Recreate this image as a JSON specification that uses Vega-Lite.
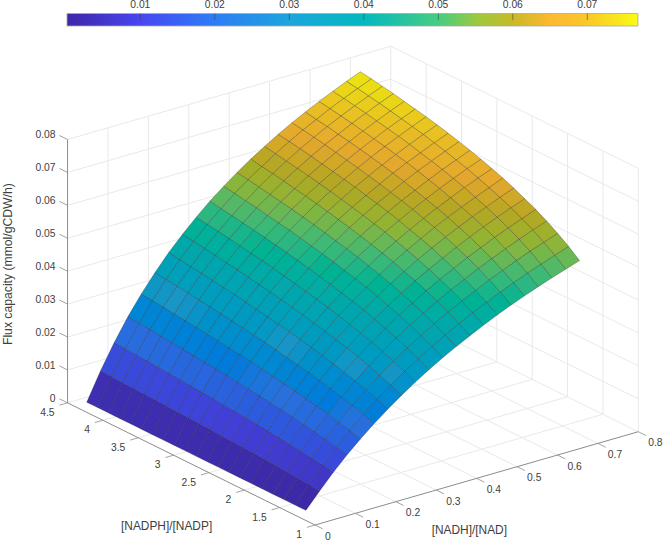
{"$schema":"https://vega.github.io/schema/vega-lite/v6.json","width":666,"height":543,"autosize":{"type":"none"},"padding":0,"background":"white","config":{"view":{"stroke":null}},"projection":{"type":"identity","scale":1,"translate":[0,0]},
"datasets":{
"surface":[
{"x":0.03,"y":1.3,"z":0.0002},{"x":0.064,"y":1.3,"z":0.0049},{"x":0.098,"y":1.3,"z":0.0094},{"x":0.132,"y":1.3,"z":0.0135},{"x":0.165,"y":1.3,"z":0.0171},{"x":0.199,"y":1.3,"z":0.0206},{"x":0.233,"y":1.3,"z":0.0238},{"x":0.267,"y":1.3,"z":0.0268},{"x":0.301,"y":1.3,"z":0.0296},{"x":0.335,"y":1.3,"z":0.0322},{"x":0.369,"y":1.3,"z":0.0346},{"x":0.402,"y":1.3,"z":0.0368},{"x":0.436,"y":1.3,"z":0.0389},{"x":0.47,"y":1.3,"z":0.0409},{"x":0.504,"y":1.3,"z":0.0428},{"x":0.538,"y":1.3,"z":0.0446},{"x":0.571,"y":1.3,"z":0.0462},{"x":0.605,"y":1.3,"z":0.0478},{"x":0.639,"y":1.3,"z":0.0493},{"x":0.673,"y":1.3,"z":0.0507},{"x":0.707,"y":1.3,"z":0.0521},
{"x":0.03,"y":1.455,"z":0.0002},{"x":0.064,"y":1.455,"z":0.0052},{"x":0.098,"y":1.455,"z":0.0099},{"x":0.132,"y":1.455,"z":0.0143},{"x":0.165,"y":1.455,"z":0.0181},{"x":0.199,"y":1.455,"z":0.0218},{"x":0.233,"y":1.455,"z":0.0252},{"x":0.267,"y":1.455,"z":0.0283},{"x":0.301,"y":1.455,"z":0.0312},{"x":0.335,"y":1.455,"z":0.0339},{"x":0.369,"y":1.455,"z":0.0364},{"x":0.402,"y":1.455,"z":0.0387},{"x":0.436,"y":1.455,"z":0.041},{"x":0.47,"y":1.455,"z":0.0431},{"x":0.504,"y":1.455,"z":0.045},{"x":0.538,"y":1.455,"z":0.0469},{"x":0.571,"y":1.455,"z":0.0486},{"x":0.605,"y":1.455,"z":0.0503},{"x":0.639,"y":1.455,"z":0.0518},{"x":0.673,"y":1.455,"z":0.0533},{"x":0.707,"y":1.455,"z":0.0548},
{"x":0.03,"y":1.61,"z":0.0002},{"x":0.064,"y":1.61,"z":0.0055},{"x":0.098,"y":1.61,"z":0.0104},{"x":0.132,"y":1.61,"z":0.015},{"x":0.165,"y":1.61,"z":0.019},{"x":0.199,"y":1.61,"z":0.0228},{"x":0.233,"y":1.61,"z":0.0264},{"x":0.267,"y":1.61,"z":0.0296},{"x":0.301,"y":1.61,"z":0.0327},{"x":0.335,"y":1.61,"z":0.0355},{"x":0.369,"y":1.61,"z":0.0381},{"x":0.402,"y":1.61,"z":0.0405},{"x":0.436,"y":1.61,"z":0.0428},{"x":0.47,"y":1.61,"z":0.045},{"x":0.504,"y":1.61,"z":0.047},{"x":0.538,"y":1.61,"z":0.049},{"x":0.571,"y":1.61,"z":0.0507},{"x":0.605,"y":1.61,"z":0.0525},{"x":0.639,"y":1.61,"z":0.0541},{"x":0.673,"y":1.61,"z":0.0556},{"x":0.707,"y":1.61,"z":0.0571},
{"x":0.03,"y":1.765,"z":0.0002},{"x":0.064,"y":1.765,"z":0.0057},{"x":0.098,"y":1.765,"z":0.0109},{"x":0.132,"y":1.765,"z":0.0156},{"x":0.165,"y":1.765,"z":0.0198},{"x":0.199,"y":1.765,"z":0.0238},{"x":0.233,"y":1.765,"z":0.0275},{"x":0.267,"y":1.765,"z":0.0308},{"x":0.301,"y":1.765,"z":0.034},{"x":0.335,"y":1.765,"z":0.0369},{"x":0.369,"y":1.765,"z":0.0396},{"x":0.402,"y":1.765,"z":0.0421},{"x":0.436,"y":1.765,"z":0.0445},{"x":0.47,"y":1.765,"z":0.0467},{"x":0.504,"y":1.765,"z":0.0488},{"x":0.538,"y":1.765,"z":0.0508},{"x":0.571,"y":1.765,"z":0.0526},{"x":0.605,"y":1.765,"z":0.0544},{"x":0.639,"y":1.765,"z":0.0561},{"x":0.673,"y":1.765,"z":0.0577},{"x":0.707,"y":1.765,"z":0.0592},
{"x":0.03,"y":1.92,"z":0.0002},{"x":0.064,"y":1.92,"z":0.006},{"x":0.098,"y":1.92,"z":0.0113},{"x":0.132,"y":1.92,"z":0.0162},{"x":0.165,"y":1.92,"z":0.0206},{"x":0.199,"y":1.92,"z":0.0247},{"x":0.233,"y":1.92,"z":0.0285},{"x":0.267,"y":1.92,"z":0.032},{"x":0.301,"y":1.92,"z":0.0352},{"x":0.335,"y":1.92,"z":0.0382},{"x":0.369,"y":1.92,"z":0.041},{"x":0.402,"y":1.92,"z":0.0435},{"x":0.436,"y":1.92,"z":0.046},{"x":0.47,"y":1.92,"z":0.0483},{"x":0.504,"y":1.92,"z":0.0504},{"x":0.538,"y":1.92,"z":0.0525},{"x":0.571,"y":1.92,"z":0.0543},{"x":0.605,"y":1.92,"z":0.0562},{"x":0.639,"y":1.92,"z":0.0579},{"x":0.673,"y":1.92,"z":0.0595},{"x":0.707,"y":1.92,"z":0.0611},
{"x":0.03,"y":2.075,"z":0.0002},{"x":0.064,"y":2.075,"z":0.0062},{"x":0.098,"y":2.075,"z":0.0117},{"x":0.132,"y":2.075,"z":0.0168},{"x":0.165,"y":2.075,"z":0.0213},{"x":0.199,"y":2.075,"z":0.0255},{"x":0.233,"y":2.075,"z":0.0294},{"x":0.267,"y":2.075,"z":0.033},{"x":0.301,"y":2.075,"z":0.0363},{"x":0.335,"y":2.075,"z":0.0394},{"x":0.369,"y":2.075,"z":0.0422},{"x":0.402,"y":2.075,"z":0.0448},{"x":0.436,"y":2.075,"z":0.0474},{"x":0.47,"y":2.075,"z":0.0497},{"x":0.504,"y":2.075,"z":0.0519},{"x":0.538,"y":2.075,"z":0.054},{"x":0.571,"y":2.075,"z":0.0559},{"x":0.605,"y":2.075,"z":0.0578},{"x":0.639,"y":2.075,"z":0.0595},{"x":0.673,"y":2.075,"z":0.0612},{"x":0.707,"y":2.075,"z":0.0627},
{"x":0.03,"y":2.23,"z":0.0002},{"x":0.064,"y":2.23,"z":0.0064},{"x":0.098,"y":2.23,"z":0.0121},{"x":0.132,"y":2.23,"z":0.0173},{"x":0.165,"y":2.23,"z":0.0219},{"x":0.199,"y":2.23,"z":0.0263},{"x":0.233,"y":2.23,"z":0.0303},{"x":0.267,"y":2.23,"z":0.0339},{"x":0.301,"y":2.23,"z":0.0373},{"x":0.335,"y":2.23,"z":0.0405},{"x":0.369,"y":2.23,"z":0.0434},{"x":0.402,"y":2.23,"z":0.0461},{"x":0.436,"y":2.23,"z":0.0486},{"x":0.47,"y":2.23,"z":0.051},{"x":0.504,"y":2.23,"z":0.0533},{"x":0.538,"y":2.23,"z":0.0554},{"x":0.571,"y":2.23,"z":0.0573},{"x":0.605,"y":2.23,"z":0.0592},{"x":0.639,"y":2.23,"z":0.061},{"x":0.673,"y":2.23,"z":0.0627},{"x":0.707,"y":2.23,"z":0.0643},
{"x":0.03,"y":2.385,"z":0.0002},{"x":0.064,"y":2.385,"z":0.0066},{"x":0.098,"y":2.385,"z":0.0125},{"x":0.132,"y":2.385,"z":0.0178},{"x":0.165,"y":2.385,"z":0.0225},{"x":0.199,"y":2.385,"z":0.027},{"x":0.233,"y":2.385,"z":0.0311},{"x":0.267,"y":2.385,"z":0.0348},{"x":0.301,"y":2.385,"z":0.0383},{"x":0.335,"y":2.385,"z":0.0415},{"x":0.369,"y":2.385,"z":0.0445},{"x":0.402,"y":2.385,"z":0.0472},{"x":0.436,"y":2.385,"z":0.0498},{"x":0.47,"y":2.385,"z":0.0522},{"x":0.504,"y":2.385,"z":0.0545},{"x":0.538,"y":2.385,"z":0.0567},{"x":0.571,"y":2.385,"z":0.0586},{"x":0.605,"y":2.385,"z":0.0605},{"x":0.639,"y":2.385,"z":0.0623},{"x":0.673,"y":2.385,"z":0.064},{"x":0.707,"y":2.385,"z":0.0657},
{"x":0.03,"y":2.54,"z":0.0002},{"x":0.064,"y":2.54,"z":0.0067},{"x":0.098,"y":2.54,"z":0.0128},{"x":0.132,"y":2.54,"z":0.0183},{"x":0.165,"y":2.54,"z":0.0231},{"x":0.199,"y":2.54,"z":0.0276},{"x":0.233,"y":2.54,"z":0.0318},{"x":0.267,"y":2.54,"z":0.0356},{"x":0.301,"y":2.54,"z":0.0392},{"x":0.335,"y":2.54,"z":0.0424},{"x":0.369,"y":2.54,"z":0.0455},{"x":0.402,"y":2.54,"z":0.0482},{"x":0.436,"y":2.54,"z":0.0509},{"x":0.47,"y":2.54,"z":0.0533},{"x":0.504,"y":2.54,"z":0.0556},{"x":0.538,"y":2.54,"z":0.0578},{"x":0.571,"y":2.54,"z":0.0598},{"x":0.605,"y":2.54,"z":0.0617},{"x":0.639,"y":2.54,"z":0.0636},{"x":0.673,"y":2.54,"z":0.0653},{"x":0.707,"y":2.54,"z":0.0669},
{"x":0.03,"y":2.695,"z":0.0002},{"x":0.064,"y":2.695,"z":0.0069},{"x":0.098,"y":2.695,"z":0.0131},{"x":0.132,"y":2.695,"z":0.0187},{"x":0.165,"y":2.695,"z":0.0236},{"x":0.199,"y":2.695,"z":0.0283},{"x":0.233,"y":2.695,"z":0.0325},{"x":0.267,"y":2.695,"z":0.0364},{"x":0.301,"y":2.695,"z":0.04},{"x":0.335,"y":2.695,"z":0.0433},{"x":0.369,"y":2.695,"z":0.0464},{"x":0.402,"y":2.695,"z":0.0492},{"x":0.436,"y":2.695,"z":0.0519},{"x":0.47,"y":2.695,"z":0.0544},{"x":0.504,"y":2.695,"z":0.0567},{"x":0.538,"y":2.695,"z":0.0589},{"x":0.571,"y":2.695,"z":0.0609},{"x":0.605,"y":2.695,"z":0.0629},{"x":0.639,"y":2.695,"z":0.0647},{"x":0.673,"y":2.695,"z":0.0665},{"x":0.707,"y":2.695,"z":0.0681},
{"x":0.03,"y":2.85,"z":0.0002},{"x":0.064,"y":2.85,"z":0.0071},{"x":0.098,"y":2.85,"z":0.0134},{"x":0.132,"y":2.85,"z":0.0191},{"x":0.165,"y":2.85,"z":0.0242},{"x":0.199,"y":2.85,"z":0.0289},{"x":0.233,"y":2.85,"z":0.0332},{"x":0.267,"y":2.85,"z":0.0371},{"x":0.301,"y":2.85,"z":0.0408},{"x":0.335,"y":2.85,"z":0.0441},{"x":0.369,"y":2.85,"z":0.0473},{"x":0.402,"y":2.85,"z":0.0501},{"x":0.436,"y":2.85,"z":0.0528},{"x":0.47,"y":2.85,"z":0.0553},{"x":0.504,"y":2.85,"z":0.0577},{"x":0.538,"y":2.85,"z":0.0599},{"x":0.571,"y":2.85,"z":0.0619},{"x":0.605,"y":2.85,"z":0.0639},{"x":0.639,"y":2.85,"z":0.0658},{"x":0.673,"y":2.85,"z":0.0675},{"x":0.707,"y":2.85,"z":0.0692},
{"x":0.03,"y":3.005,"z":0.0002},{"x":0.064,"y":3.005,"z":0.0072},{"x":0.098,"y":3.005,"z":0.0137},{"x":0.132,"y":3.005,"z":0.0195},{"x":0.165,"y":3.005,"z":0.0247},{"x":0.199,"y":3.005,"z":0.0294},{"x":0.233,"y":3.005,"z":0.0338},{"x":0.267,"y":3.005,"z":0.0378},{"x":0.301,"y":3.005,"z":0.0415},{"x":0.335,"y":3.005,"z":0.0449},{"x":0.369,"y":3.005,"z":0.0481},{"x":0.402,"y":3.005,"z":0.0509},{"x":0.436,"y":3.005,"z":0.0537},{"x":0.47,"y":3.005,"z":0.0562},{"x":0.504,"y":3.005,"z":0.0586},{"x":0.538,"y":3.005,"z":0.0608},{"x":0.571,"y":3.005,"z":0.0629},{"x":0.605,"y":3.005,"z":0.0649},{"x":0.639,"y":3.005,"z":0.0667},{"x":0.673,"y":3.005,"z":0.0685},{"x":0.707,"y":3.005,"z":0.0702},
{"x":0.03,"y":3.16,"z":0.0002},{"x":0.064,"y":3.16,"z":0.0074},{"x":0.098,"y":3.16,"z":0.014},{"x":0.132,"y":3.16,"z":0.0199},{"x":0.165,"y":3.16,"z":0.0251},{"x":0.199,"y":3.16,"z":0.03},{"x":0.233,"y":3.16,"z":0.0344},{"x":0.267,"y":3.16,"z":0.0385},{"x":0.301,"y":3.16,"z":0.0422},{"x":0.335,"y":3.16,"z":0.0457},{"x":0.369,"y":3.16,"z":0.0488},{"x":0.402,"y":3.16,"z":0.0517},{"x":0.436,"y":3.16,"z":0.0545},{"x":0.47,"y":3.16,"z":0.057},{"x":0.504,"y":3.16,"z":0.0594},{"x":0.538,"y":3.16,"z":0.0617},{"x":0.571,"y":3.16,"z":0.0638},{"x":0.605,"y":3.16,"z":0.0658},{"x":0.639,"y":3.16,"z":0.0676},{"x":0.673,"y":3.16,"z":0.0694},{"x":0.707,"y":3.16,"z":0.0711},
{"x":0.03,"y":3.315,"z":0.0002},{"x":0.064,"y":3.315,"z":0.0075},{"x":0.098,"y":3.315,"z":0.0143},{"x":0.132,"y":3.315,"z":0.0203},{"x":0.165,"y":3.315,"z":0.0256},{"x":0.199,"y":3.315,"z":0.0305},{"x":0.233,"y":3.315,"z":0.035},{"x":0.267,"y":3.315,"z":0.0391},{"x":0.301,"y":3.315,"z":0.0429},{"x":0.335,"y":3.315,"z":0.0464},{"x":0.369,"y":3.315,"z":0.0496},{"x":0.402,"y":3.315,"z":0.0525},{"x":0.436,"y":3.315,"z":0.0553},{"x":0.47,"y":3.315,"z":0.0578},{"x":0.504,"y":3.315,"z":0.0603},{"x":0.538,"y":3.315,"z":0.0625},{"x":0.571,"y":3.315,"z":0.0646},{"x":0.605,"y":3.315,"z":0.0666},{"x":0.639,"y":3.315,"z":0.0685},{"x":0.673,"y":3.315,"z":0.0703},{"x":0.707,"y":3.315,"z":0.072},
{"x":0.03,"y":3.47,"z":0.0002},{"x":0.064,"y":3.47,"z":0.0077},{"x":0.098,"y":3.47,"z":0.0145},{"x":0.132,"y":3.47,"z":0.0206},{"x":0.165,"y":3.47,"z":0.026},{"x":0.199,"y":3.47,"z":0.031},{"x":0.233,"y":3.47,"z":0.0356},{"x":0.267,"y":3.47,"z":0.0397},{"x":0.301,"y":3.47,"z":0.0435},{"x":0.335,"y":3.47,"z":0.047},{"x":0.369,"y":3.47,"z":0.0503},{"x":0.402,"y":3.47,"z":0.0532},{"x":0.436,"y":3.47,"z":0.056},{"x":0.47,"y":3.47,"z":0.0586},{"x":0.504,"y":3.47,"z":0.061},{"x":0.538,"y":3.47,"z":0.0633},{"x":0.571,"y":3.47,"z":0.0654},{"x":0.605,"y":3.47,"z":0.0674},{"x":0.639,"y":3.47,"z":0.0693},{"x":0.673,"y":3.47,"z":0.0711},{"x":0.707,"y":3.47,"z":0.0728},
{"x":0.03,"y":3.625,"z":0.0002},{"x":0.064,"y":3.625,"z":0.0078},{"x":0.098,"y":3.625,"z":0.0148},{"x":0.132,"y":3.625,"z":0.021},{"x":0.165,"y":3.625,"z":0.0264},{"x":0.199,"y":3.625,"z":0.0315},{"x":0.233,"y":3.625,"z":0.0361},{"x":0.267,"y":3.625,"z":0.0403},{"x":0.301,"y":3.625,"z":0.0441},{"x":0.335,"y":3.625,"z":0.0477},{"x":0.369,"y":3.625,"z":0.0509},{"x":0.402,"y":3.625,"z":0.0539},{"x":0.436,"y":3.625,"z":0.0567},{"x":0.47,"y":3.625,"z":0.0593},{"x":0.504,"y":3.625,"z":0.0617},{"x":0.538,"y":3.625,"z":0.064},{"x":0.571,"y":3.625,"z":0.0661},{"x":0.605,"y":3.625,"z":0.0681},{"x":0.639,"y":3.625,"z":0.07},{"x":0.673,"y":3.625,"z":0.0718},{"x":0.707,"y":3.625,"z":0.0735},
{"x":0.03,"y":3.78,"z":0.0002},{"x":0.064,"y":3.78,"z":0.008},{"x":0.098,"y":3.78,"z":0.015},{"x":0.132,"y":3.78,"z":0.0213},{"x":0.165,"y":3.78,"z":0.0268},{"x":0.199,"y":3.78,"z":0.0319},{"x":0.233,"y":3.78,"z":0.0366},{"x":0.267,"y":3.78,"z":0.0408},{"x":0.301,"y":3.78,"z":0.0447},{"x":0.335,"y":3.78,"z":0.0483},{"x":0.369,"y":3.78,"z":0.0515},{"x":0.402,"y":3.78,"z":0.0545},{"x":0.436,"y":3.78,"z":0.0573},{"x":0.47,"y":3.78,"z":0.06},{"x":0.504,"y":3.78,"z":0.0624},{"x":0.538,"y":3.78,"z":0.0647},{"x":0.571,"y":3.78,"z":0.0668},{"x":0.605,"y":3.78,"z":0.0688},{"x":0.639,"y":3.78,"z":0.0707},{"x":0.673,"y":3.78,"z":0.0725},{"x":0.707,"y":3.78,"z":0.0742},
{"x":0.03,"y":3.935,"z":0.0002},{"x":0.064,"y":3.935,"z":0.0081},{"x":0.098,"y":3.935,"z":0.0153},{"x":0.132,"y":3.935,"z":0.0216},{"x":0.165,"y":3.935,"z":0.0272},{"x":0.199,"y":3.935,"z":0.0324},{"x":0.233,"y":3.935,"z":0.0371},{"x":0.267,"y":3.935,"z":0.0414},{"x":0.301,"y":3.935,"z":0.0453},{"x":0.335,"y":3.935,"z":0.0488},{"x":0.369,"y":3.935,"z":0.0522},{"x":0.402,"y":3.935,"z":0.0551},{"x":0.436,"y":3.935,"z":0.058},{"x":0.47,"y":3.935,"z":0.0606},{"x":0.504,"y":3.935,"z":0.0631},{"x":0.538,"y":3.935,"z":0.0654},{"x":0.571,"y":3.935,"z":0.0674},{"x":0.605,"y":3.935,"z":0.0695},{"x":0.639,"y":3.935,"z":0.0714},{"x":0.673,"y":3.935,"z":0.0732},{"x":0.707,"y":3.935,"z":0.0749},
{"x":0.03,"y":4.09,"z":0.0002},{"x":0.064,"y":4.09,"z":0.0082},{"x":0.098,"y":4.09,"z":0.0155},{"x":0.132,"y":4.09,"z":0.022},{"x":0.165,"y":4.09,"z":0.0276},{"x":0.199,"y":4.09,"z":0.0328},{"x":0.233,"y":4.09,"z":0.0375},{"x":0.267,"y":4.09,"z":0.0419},{"x":0.301,"y":4.09,"z":0.0458},{"x":0.335,"y":4.09,"z":0.0494},{"x":0.369,"y":4.09,"z":0.0527},{"x":0.402,"y":4.09,"z":0.0557},{"x":0.436,"y":4.09,"z":0.0586},{"x":0.47,"y":4.09,"z":0.0612},{"x":0.504,"y":4.09,"z":0.0637},{"x":0.538,"y":4.09,"z":0.066},{"x":0.571,"y":4.09,"z":0.0681},{"x":0.605,"y":4.09,"z":0.0701},{"x":0.639,"y":4.09,"z":0.072},{"x":0.673,"y":4.09,"z":0.0738},{"x":0.707,"y":4.09,"z":0.0755},
{"x":0.03,"y":4.245,"z":0.0002},{"x":0.064,"y":4.245,"z":0.0084},{"x":0.098,"y":4.245,"z":0.0157},{"x":0.132,"y":4.245,"z":0.0223},{"x":0.165,"y":4.245,"z":0.028},{"x":0.199,"y":4.245,"z":0.0332},{"x":0.233,"y":4.245,"z":0.038},{"x":0.267,"y":4.245,"z":0.0424},{"x":0.301,"y":4.245,"z":0.0463},{"x":0.335,"y":4.245,"z":0.0499},{"x":0.369,"y":4.245,"z":0.0533},{"x":0.402,"y":4.245,"z":0.0563},{"x":0.436,"y":4.245,"z":0.0591},{"x":0.47,"y":4.245,"z":0.0618},{"x":0.504,"y":4.245,"z":0.0643},{"x":0.538,"y":4.245,"z":0.0666},{"x":0.571,"y":4.245,"z":0.0686},{"x":0.605,"y":4.245,"z":0.0707},{"x":0.639,"y":4.245,"z":0.0726},{"x":0.673,"y":4.245,"z":0.0744},{"x":0.707,"y":4.245,"z":0.0761},
{"x":0.03,"y":4.4,"z":0.0002},{"x":0.064,"y":4.4,"z":0.0085},{"x":0.098,"y":4.4,"z":0.0159},{"x":0.132,"y":4.4,"z":0.0226},{"x":0.165,"y":4.4,"z":0.0283},{"x":0.199,"y":4.4,"z":0.0336},{"x":0.233,"y":4.4,"z":0.0385},{"x":0.267,"y":4.4,"z":0.0428},{"x":0.301,"y":4.4,"z":0.0468},{"x":0.335,"y":4.4,"z":0.0505},{"x":0.369,"y":4.4,"z":0.0538},{"x":0.402,"y":4.4,"z":0.0568},{"x":0.436,"y":4.4,"z":0.0597},{"x":0.47,"y":4.4,"z":0.0623},{"x":0.504,"y":4.4,"z":0.0648},{"x":0.538,"y":4.4,"z":0.0671},{"x":0.571,"y":4.4,"z":0.0692},{"x":0.605,"y":4.4,"z":0.0712},{"x":0.639,"y":4.4,"z":0.0731},{"x":0.673,"y":4.4,"z":0.0749},{"x":0.707,"y":4.4,"z":0.0766}
],
"grid":[
{"x":0.1,"y":1,"z":0,"x2":0.1,"y2":4.5,"z2":0},{"x":0.2,"y":1,"z":0,"x2":0.2,"y2":4.5,"z2":0},{"x":0.3,"y":1,"z":0,"x2":0.3,"y2":4.5,"z2":0},{"x":0.4,"y":1,"z":0,"x2":0.4,"y2":4.5,"z2":0},{"x":0.5,"y":1,"z":0,"x2":0.5,"y2":4.5,"z2":0},{"x":0.6,"y":1,"z":0,"x2":0.6,"y2":4.5,"z2":0},{"x":0.7,"y":1,"z":0,"x2":0.7,"y2":4.5,"z2":0},{"x":0.8,"y":1,"z":0,"x2":0.8,"y2":4.5,"z2":0},
{"x":0,"y":1.5,"z":0,"x2":0.8,"y2":1.5,"z2":0},{"x":0,"y":2,"z":0,"x2":0.8,"y2":2,"z2":0},{"x":0,"y":2.5,"z":0,"x2":0.8,"y2":2.5,"z2":0},{"x":0,"y":3,"z":0,"x2":0.8,"y2":3,"z2":0},{"x":0,"y":3.5,"z":0,"x2":0.8,"y2":3.5,"z2":0},{"x":0,"y":4,"z":0,"x2":0.8,"y2":4,"z2":0},{"x":0,"y":4.5,"z":0,"x2":0.8,"y2":4.5,"z2":0},
{"x":0.1,"y":4.5,"z":0,"x2":0.1,"y2":4.5,"z2":0.08},{"x":0.2,"y":4.5,"z":0,"x2":0.2,"y2":4.5,"z2":0.08},{"x":0.3,"y":4.5,"z":0,"x2":0.3,"y2":4.5,"z2":0.08},{"x":0.4,"y":4.5,"z":0,"x2":0.4,"y2":4.5,"z2":0.08},{"x":0.5,"y":4.5,"z":0,"x2":0.5,"y2":4.5,"z2":0.08},{"x":0.6,"y":4.5,"z":0,"x2":0.6,"y2":4.5,"z2":0.08},{"x":0.7,"y":4.5,"z":0,"x2":0.7,"y2":4.5,"z2":0.08},{"x":0.8,"y":4.5,"z":0,"x2":0.8,"y2":4.5,"z2":0.08},
{"x":0,"y":4.5,"z":0.01,"x2":0.8,"y2":4.5,"z2":0.01},{"x":0,"y":4.5,"z":0.02,"x2":0.8,"y2":4.5,"z2":0.02},{"x":0,"y":4.5,"z":0.03,"x2":0.8,"y2":4.5,"z2":0.03},{"x":0,"y":4.5,"z":0.04,"x2":0.8,"y2":4.5,"z2":0.04},{"x":0,"y":4.5,"z":0.05,"x2":0.8,"y2":4.5,"z2":0.05},{"x":0,"y":4.5,"z":0.06,"x2":0.8,"y2":4.5,"z2":0.06},{"x":0,"y":4.5,"z":0.07,"x2":0.8,"y2":4.5,"z2":0.07},{"x":0,"y":4.5,"z":0.08,"x2":0.8,"y2":4.5,"z2":0.08},
{"x":0.8,"y":1,"z":0,"x2":0.8,"y2":1,"z2":0.08},{"x":0.8,"y":1.5,"z":0,"x2":0.8,"y2":1.5,"z2":0.08},{"x":0.8,"y":2,"z":0,"x2":0.8,"y2":2,"z2":0.08},{"x":0.8,"y":2.5,"z":0,"x2":0.8,"y2":2.5,"z2":0.08},{"x":0.8,"y":3,"z":0,"x2":0.8,"y2":3,"z2":0.08},{"x":0.8,"y":3.5,"z":0,"x2":0.8,"y2":3.5,"z2":0.08},{"x":0.8,"y":4,"z":0,"x2":0.8,"y2":4,"z2":0.08},
{"x":0.8,"y":1,"z":0.01,"x2":0.8,"y2":4.5,"z2":0.01},{"x":0.8,"y":1,"z":0.02,"x2":0.8,"y2":4.5,"z2":0.02},{"x":0.8,"y":1,"z":0.03,"x2":0.8,"y2":4.5,"z2":0.03},{"x":0.8,"y":1,"z":0.04,"x2":0.8,"y2":4.5,"z2":0.04},{"x":0.8,"y":1,"z":0.05,"x2":0.8,"y2":4.5,"z2":0.05},{"x":0.8,"y":1,"z":0.06,"x2":0.8,"y2":4.5,"z2":0.06},{"x":0.8,"y":1,"z":0.07,"x2":0.8,"y2":4.5,"z2":0.07},{"x":0.8,"y":1,"z":0.08,"x2":0.8,"y2":4.5,"z2":0.08}
],
"axes":[
{"x":0,"y":4.5,"z":0,"x2":0,"y2":4.5,"z2":0.08},{"x":0,"y":1,"z":0,"x2":0,"y2":4.5,"z2":0},{"x":0,"y":1,"z":0,"x2":0.8,"y2":1,"z2":0}
],
"zticks":[
{"x":0,"y":4.5,"z":0,"x2":0,"y2":4.615,"z2":0,"label":"0"},{"x":0,"y":4.5,"z":0.01,"x2":0,"y2":4.615,"z2":0.01,"label":"0.01"},{"x":0,"y":4.5,"z":0.02,"x2":0,"y2":4.615,"z2":0.02,"label":"0.02"},{"x":0,"y":4.5,"z":0.03,"x2":0,"y2":4.615,"z2":0.03,"label":"0.03"},{"x":0,"y":4.5,"z":0.04,"x2":0,"y2":4.615,"z2":0.04,"label":"0.04"},{"x":0,"y":4.5,"z":0.05,"x2":0,"y2":4.615,"z2":0.05,"label":"0.05"},{"x":0,"y":4.5,"z":0.06,"x2":0,"y2":4.615,"z2":0.06,"label":"0.06"},{"x":0,"y":4.5,"z":0.07,"x2":0,"y2":4.615,"z2":0.07,"label":"0.07"},{"x":0,"y":4.5,"z":0.08,"x2":0,"y2":4.615,"z2":0.08,"label":"0.08"}
],
"yticks":[
{"x":0,"y":1,"z":0,"x2":-0.02,"y2":1,"z2":0,"label":"1"},{"x":0,"y":1.5,"z":0,"x2":-0.02,"y2":1.5,"z2":0,"label":"1.5"},{"x":0,"y":2,"z":0,"x2":-0.02,"y2":2,"z2":0,"label":"2"},{"x":0,"y":2.5,"z":0,"x2":-0.02,"y2":2.5,"z2":0,"label":"2.5"},{"x":0,"y":3,"z":0,"x2":-0.02,"y2":3,"z2":0,"label":"3"},{"x":0,"y":3.5,"z":0,"x2":-0.02,"y2":3.5,"z2":0,"label":"3.5"},{"x":0,"y":4,"z":0,"x2":-0.02,"y2":4,"z2":0,"label":"4"},{"x":0,"y":4.5,"z":0,"x2":-0.02,"y2":4.5,"z2":0,"label":"4.5"}
],
"xticks":[
{"x":0,"y":1,"z":0,"x2":0,"y2":0.89,"z2":0,"label":"0"},{"x":0.1,"y":1,"z":0,"x2":0.1,"y2":0.89,"z2":0,"label":"0.1"},{"x":0.2,"y":1,"z":0,"x2":0.2,"y2":0.89,"z2":0,"label":"0.2"},{"x":0.3,"y":1,"z":0,"x2":0.3,"y2":0.89,"z2":0,"label":"0.3"},{"x":0.4,"y":1,"z":0,"x2":0.4,"y2":0.89,"z2":0,"label":"0.4"},{"x":0.5,"y":1,"z":0,"x2":0.5,"y2":0.89,"z2":0,"label":"0.5"},{"x":0.6,"y":1,"z":0,"x2":0.6,"y2":0.89,"z2":0,"label":"0.6"},{"x":0.7,"y":1,"z":0,"x2":0.7,"y2":0.89,"z2":0,"label":"0.7"},{"x":0.8,"y":1,"z":0,"x2":0.8,"y2":0.89,"z2":0,"label":"0.8"}
],
"titles":[
{"x":-0.234,"y":1.7615,"z":0,"label":"[NADPH]/[NADP]","size":11.9,"angle":0},{"x":0.2252,"y":0.1043,"z":0,"label":"[NADH]/[NAD]","size":11.9,"angle":0},{"x":-0.1485,"y":4.5,"z":0.0474,"label":"Flux capacity (mmol/gCDW/h)","size":12.2,"angle":270}
],
"barticks":[{"v":0.01,"label":"0.01"},{"v":0.02,"label":"0.02"},{"v":0.03,"label":"0.03"},{"v":0.04,"label":"0.04"},{"v":0.05,"label":"0.05"},{"v":0.06,"label":"0.06"},{"v":0.07,"label":"0.07"}],
"bar":[{"v":0.00016,"v2":0.0768}]
},
"layer":[
{"data":{"name":"grid"},"transform":[{"calculate":"315+404.1*datum.x-70.7*(datum.y-1)","as":"lon"},{"calculate":"525-116.6*datum.x-34.9*(datum.y-1)-3292*datum.z","as":"lat"},{"calculate":"315+404.1*datum.x2-70.7*(datum.y2-1)","as":"lon2"},{"calculate":"525-116.6*datum.x2-34.9*(datum.y2-1)-3292*datum.z2","as":"lat2"}],"mark":{"type":"rule","stroke":"#e9e9e9","strokeWidth":1},"encoding":{"longitude":{"field":"lon","type":"quantitative"},"latitude":{"field":"lat","type":"quantitative"},"longitude2":{"field":"lon2"},"latitude2":{"field":"lat2"}}},
{"data":{"name":"axes"},"transform":[{"calculate":"315+404.1*datum.x-70.7*(datum.y-1)","as":"lon"},{"calculate":"525-116.6*datum.x-34.9*(datum.y-1)-3292*datum.z","as":"lat"},{"calculate":"315+404.1*datum.x2-70.7*(datum.y2-1)","as":"lon2"},{"calculate":"525-116.6*datum.x2-34.9*(datum.y2-1)-3292*datum.z2","as":"lat2"}],"mark":{"type":"rule","stroke":"#8c8c8c","strokeWidth":1},"encoding":{"longitude":{"field":"lon","type":"quantitative"},"latitude":{"field":"lat","type":"quantitative"},"longitude2":{"field":"lon2"},"latitude2":{"field":"lat2"}}},
{"data":{"name":"zticks"},"transform":[{"calculate":"315+404.1*datum.x-70.7*(datum.y-1)","as":"lon"},{"calculate":"525-116.6*datum.x-34.9*(datum.y-1)-3292*datum.z","as":"lat"},{"calculate":"315+404.1*datum.x2-70.7*(datum.y2-1)","as":"lon2"},{"calculate":"525-116.6*datum.x2-34.9*(datum.y2-1)-3292*datum.z2","as":"lat2"}],"mark":{"type":"rule","stroke":"#8c8c8c","strokeWidth":0.8},"encoding":{"longitude":{"field":"lon","type":"quantitative"},"latitude":{"field":"lat","type":"quantitative"},"longitude2":{"field":"lon2"},"latitude2":{"field":"lat2"}}},
{"data":{"name":"yticks"},"transform":[{"calculate":"315+404.1*datum.x-70.7*(datum.y-1)","as":"lon"},{"calculate":"525-116.6*datum.x-34.9*(datum.y-1)-3292*datum.z","as":"lat"},{"calculate":"315+404.1*datum.x2-70.7*(datum.y2-1)","as":"lon2"},{"calculate":"525-116.6*datum.x2-34.9*(datum.y2-1)-3292*datum.z2","as":"lat2"}],"mark":{"type":"rule","stroke":"#8c8c8c","strokeWidth":0.8},"encoding":{"longitude":{"field":"lon","type":"quantitative"},"latitude":{"field":"lat","type":"quantitative"},"longitude2":{"field":"lon2"},"latitude2":{"field":"lat2"}}},
{"data":{"name":"xticks"},"transform":[{"calculate":"315+404.1*datum.x-70.7*(datum.y-1)","as":"lon"},{"calculate":"525-116.6*datum.x-34.9*(datum.y-1)-3292*datum.z","as":"lat"},{"calculate":"315+404.1*datum.x2-70.7*(datum.y2-1)","as":"lon2"},{"calculate":"525-116.6*datum.x2-34.9*(datum.y2-1)-3292*datum.z2","as":"lat2"}],"mark":{"type":"rule","stroke":"#8c8c8c","strokeWidth":0.8},"encoding":{"longitude":{"field":"lon","type":"quantitative"},"latitude":{"field":"lat","type":"quantitative"},"longitude2":{"field":"lon2"},"latitude2":{"field":"lat2"}}},
{"data":{"name":"surface"},"transform":[
{"window":[{"op":"lead","field":"z","as":"zb"},{"op":"lead","field":"y","as":"yb"}],"groupby":["x"],"sort":[{"field":"y"}]},
{"window":[{"op":"lead","field":"x","as":"xa"},{"op":"lead","field":"z","as":"za"},{"op":"lead","field":"zb","as":"zab"}],"groupby":["y"],"sort":[{"field":"x"}]},
{"filter":"isValid(datum.xa) && isValid(datum.yb)"},
{"calculate":"(datum.z+datum.za+datum.zb+datum.zab)/4","as":"flux"},
{"calculate":"{type:'Polygon',coordinates:[[[315+404.1*datum.x-70.7*(datum.y-1),525-116.6*datum.x-34.9*(datum.y-1)-3292*datum.z],[315+404.1*datum.xa-70.7*(datum.y-1),525-116.6*datum.xa-34.9*(datum.y-1)-3292*datum.za],[315+404.1*datum.xa-70.7*(datum.yb-1),525-116.6*datum.xa-34.9*(datum.yb-1)-3292*datum.zab],[315+404.1*datum.x-70.7*(datum.yb-1),525-116.6*datum.x-34.9*(datum.yb-1)-3292*datum.zb],[315+404.1*datum.x-70.7*(datum.y-1),525-116.6*datum.x-34.9*(datum.y-1)-3292*datum.z]]]}","as":"cell"}],
"mark":{"type":"geoshape","stroke":"#1a1a1a","strokeWidth":0.5,"strokeOpacity":0.55},
"encoding":{"shape":{"field":"cell","type":"geojson"},"color":{"field":"flux","type":"quantitative","legend":null,"scale":{"domain":[0.00016,0.01,0.02,0.03,0.04,0.05,0.0555,0.06,0.065,0.07,0.0768],"range":["#382297","#413fd8","#2971dd","#1995c6","#04a7ab","#3fb975","#90b436","#b4a724","#e4a72d","#e8bc24","#e8ea13"]}}}},
{"data":{"name":"zticks"},"transform":[{"calculate":"315+404.1*datum.x-70.7*(datum.y-1)","as":"lon"},{"calculate":"525-116.6*datum.x-34.9*(datum.y-1)-3292*datum.z","as":"lat"}],"mark":{"type":"text","align":"right","baseline":"middle","dx":-12,"dy":-4,"font":"Liberation Sans","fontSize":10.3,"fill":"#404040"},"encoding":{"longitude":{"field":"lon","type":"quantitative"},"latitude":{"field":"lat","type":"quantitative"},"text":{"field":"label"}}},
{"data":{"name":"yticks"},"transform":[{"calculate":"315+404.1*datum.x-70.7*(datum.y-1)","as":"lon"},{"calculate":"525-116.6*datum.x-34.9*(datum.y-1)-3292*datum.z","as":"lat"}],"mark":{"type":"text","align":"right","baseline":"middle","dx":-13,"dy":10,"font":"Liberation Sans","fontSize":10.3,"fill":"#404040"},"encoding":{"longitude":{"field":"lon","type":"quantitative"},"latitude":{"field":"lat","type":"quantitative"},"text":{"field":"label"}}},
{"data":{"name":"xticks"},"transform":[{"calculate":"315+404.1*datum.x-70.7*(datum.y-1)","as":"lon"},{"calculate":"525-116.6*datum.x-34.9*(datum.y-1)-3292*datum.z","as":"lat"}],"mark":{"type":"text","align":"left","baseline":"middle","dx":10,"dy":11.5,"font":"Liberation Sans","fontSize":10.3,"fill":"#404040"},"encoding":{"longitude":{"field":"lon","type":"quantitative"},"latitude":{"field":"lat","type":"quantitative"},"text":{"field":"label"}}},
{"data":{"name":"titles"},"transform":[{"calculate":"315+404.1*datum.x-70.7*(datum.y-1)","as":"lon"},{"calculate":"525-116.6*datum.x-34.9*(datum.y-1)-3292*datum.z","as":"lat"}],"mark":{"type":"text","align":"center","baseline":"middle","font":"Liberation Sans","fill":"#404040"},"encoding":{"longitude":{"field":"lon","type":"quantitative"},"latitude":{"field":"lat","type":"quantitative"},"text":{"field":"label"},"size":{"field":"size","type":"quantitative","scale":null},"angle":{"field":"angle","type":"quantitative","scale":null}}},
{"data":{"name":"bar"},"transform":[{"calculate":"67+(datum.v-0.00016)*7450","as":"a"},{"calculate":"67+(datum.v2-0.00016)*7450","as":"b"},{"calculate":"{type:'Polygon',coordinates:[[[datum.a,13.5],[datum.b,13.5],[datum.b,26],[datum.a,26],[datum.a,13.5]]]}","as":"cell"}],"mark":{"type":"geoshape","stroke":"#a8a8a8","strokeWidth":0.8,"fill":{"gradient":"linear","x1":0,"x2":1,"y1":0,"y2":0,"stops":[{"offset":0,"color":"#3e26a8"},{"offset":0.128,"color":"#4846f0"},{"offset":0.259,"color":"#2d7df5"},{"offset":0.39,"color":"#1ca5dc"},{"offset":0.52,"color":"#04b9be"},{"offset":0.65,"color":"#46cd82"},{"offset":0.722,"color":"#a0c83c"},{"offset":0.781,"color":"#c8b928"},{"offset":0.846,"color":"#fdb932"},{"offset":0.911,"color":"#fac828"},{"offset":1,"color":"#f9fb15"}]}},"encoding":{"shape":{"field":"cell","type":"geojson"}}},
{"data":{"name":"barticks"},"transform":[{"calculate":"67+(datum.v-0.00016)*7450","as":"lon"},{"calculate":"13.5","as":"lat"},{"calculate":"20","as":"lat2"}],"mark":{"type":"rule","stroke":"#404040","strokeWidth":0.8,"opacity":0.7},"encoding":{"longitude":{"field":"lon","type":"quantitative"},"latitude":{"field":"lat","type":"quantitative"},"longitude2":{"field":"lon"},"latitude2":{"field":"lat2"}}},
{"data":{"name":"barticks"},"transform":[{"calculate":"67+(datum.v-0.00016)*7450","as":"lon"},{"calculate":"5.3","as":"lat"}],"mark":{"type":"text","align":"center","baseline":"middle","font":"Liberation Sans","fontSize":10.3,"fill":"#404040"},"encoding":{"longitude":{"field":"lon","type":"quantitative"},"latitude":{"field":"lat","type":"quantitative"},"text":{"field":"label"}}}
]}
